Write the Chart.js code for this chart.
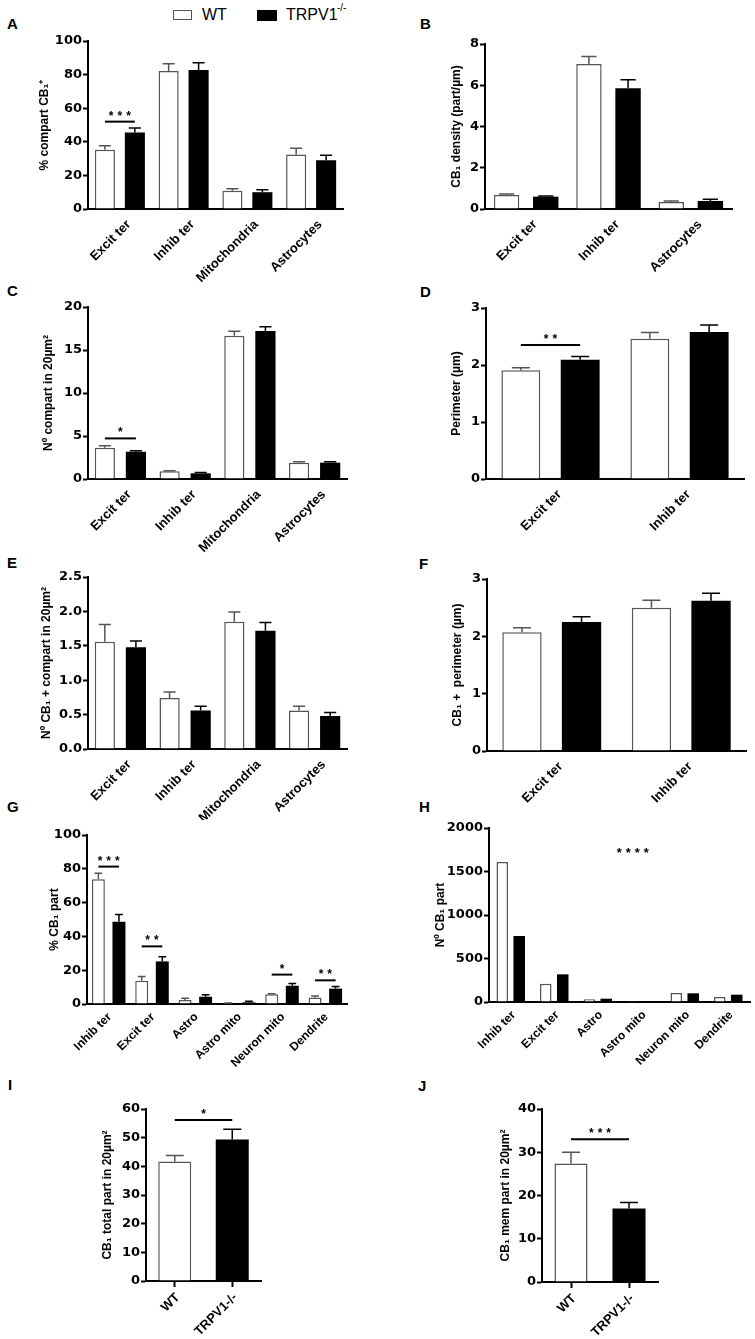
<!DOCTYPE html>
<html>
<head>
<meta charset="utf-8">
<script src="https://cdn.jsdelivr.net/npm/chart.js@4.4.0/dist/chart.umd.min.js"></script>
<style>
  body { margin: 0; background: #fff; width: 755px; height: 1339px; position: relative; overflow: hidden;
         font-family: "Liberation Sans", Arial, sans-serif; color: #000; }
  canvas { position: absolute; }
  .letter { position: absolute; font-size: 15px; line-height: 15px; font-weight: bold; }
  .legtext { position: absolute; font-size: 16px; line-height: 16px; }
</style>
</head>
<body>

<!-- legend -->
<div style="position:absolute;left:173px;top:10px;width:17px;height:8px;border:1.5px solid #555;background:#fff"></div>
<div class="legtext" style="left:202px;top:7px">WT</div>
<div style="position:absolute;left:257px;top:10px;width:20px;height:11px;background:#000"></div>
<div class="legtext" style="left:286px;top:7px">TRPV1</div>
<div class="legtext" style="left:337px;top:3px;font-size:10px;line-height:10px">-/-</div>

<!-- panel letters -->
<div class="letter" style="left:7px;top:16px">A</div>
<div class="letter" style="left:420px;top:16px">B</div>
<div class="letter" style="left:7px;top:283px">C</div>
<div class="letter" style="left:420px;top:284px">D</div>
<div class="letter" style="left:7px;top:555px">E</div>
<div class="letter" style="left:419px;top:556px">F</div>
<div class="letter" style="left:7px;top:799px">G</div>
<div class="letter" style="left:419px;top:799px">H</div>
<div class="letter" style="left:8px;top:1077px">I</div>
<div class="letter" style="left:418px;top:1078px">J</div>

<script>
'use strict';

// ***** DATA *****
// A - % compartments CB1+
const aCats = ['Excit ter', 'Inhib ter', 'Mitochondria', 'Astrocytes'];
const aWT = [35.2, 82.2, 10.9, 32.4];
const aWTErr = [2.5, 4.3, 1.1, 3.8];
const aKO = [45.6, 82.8, 10.0, 29.0];
const aKOErr = [2.6, 4.2, 1.5, 3.0];
const aTicks = ['0', '20', '40', '60', '80', '100'];
const aSig = [[0, 52, '***']];

// B - CB1 density
const bCats = ['Excit ter', 'Inhib ter', 'Astrocytes'];
const bWT = [0.68, 7.03, 0.34];
const bWTErr = [0.05, 0.37, 0.05];
const bKO = [0.60, 5.86, 0.39];
const bKOErr = [0.03, 0.41, 0.08];
const bTicks = ['0', '2', '4', '6', '8'];

// C - compartments in 20um2
const cCats = ['Excit ter', 'Inhib ter', 'Mitochondria', 'Astrocytes'];
const cWT = [3.64, 0.89, 16.67, 1.9];
const cWTErr = [0.23, 0.08, 0.51, 0.1];
const cKO = [3.17, 0.66, 17.2, 1.9];
const cKOErr = [0.12, 0.11, 0.5, 0.1];
const cTicks = ['0', '5', '10', '15', '20'];
const cSig = [[0, 4.72, '*']];

// D - perimeter
const dCats = ['Excit ter', 'Inhib ter'];
const dWT = [1.91, 2.46];
const dWTErr = [0.04, 0.11];
const dKO = [2.09, 2.58];
const dKOErr = [0.06, 0.12];
const dTicks = ['0', '1', '2', '3'];
const dSig = [[0, 2.35, '**']];

// E - CB1+ compartments in 20um2
const eCats = ['Excit ter', 'Inhib ter', 'Mitochondria', 'Astrocytes'];
const eWT = [1.56, 0.74, 1.85, 0.56];
const eWTErr = [0.25, 0.09, 0.14, 0.06];
const eKO = [1.48, 0.56, 1.72, 0.48];
const eKOErr = [0.09, 0.06, 0.12, 0.05];
const eTicks = ['0.0', '0.5', '1.0', '1.5', '2.0', '2.5'];

// F - CB1+ perimeter
const fCats = ['Excit ter', 'Inhib ter'];
const fWT = [2.07, 2.50];
const fWTErr = [0.08, 0.13];
const fKO = [2.25, 2.62];
const fKOErr = [0.09, 0.13];
const fTicks = ['0', '1', '2', '3'];

// G - % CB1 particles
const gCats = ['Inhib ter', 'Excit ter', 'Astro', 'Astro mito', 'Neuron mito', 'Dendrite'];
const gWT = [73.8, 13.8, 2.4, 0.4, 5.7, 3.9];
const gWTErr = [3.5, 2.4, 1.0, 0.2, 0.4, 0.8];
const gKO = [48.7, 25.2, 4.3, 1.0, 10.8, 9.1];
const gKOErr = [4.2, 2.8, 1.2, 0.6, 1.4, 1.2];
const gTicks = ['0', '20', '40', '60', '80', '100'];
const gSig = [[0, 81.3, '***'], [1, 34.1, '**'], [4, 17.4, '*'], [5, 14, '**']];

// H - number of CB1 particles
const hCats = ['Inhib ter', 'Excit ter', 'Astro', 'Astro mito', 'Neuron mito', 'Dendrite'];
const hWT = [1609, 211, 31, 2, 103, 57];
const hKO = [759, 318, 38, 8, 100, 84];
const hTicks = ['0', '500', '1000', '1500', '2000'];
const hSig = [[3, 1640, '****', false]];

// I - CB1 total particles
const iCats = ['WT', 'TRPV1-/-'];
const iValues = [41.7, 49.4];
const iErr = [2.1, 3.5];
const iTicks = ['0', '10', '20', '30', '40', '50', '60'];
const iSig = [[0, 56.2, '*']];

// J - CB1 membrane particles
const jCats = ['WT', 'TRPV1-/-'];
const jValues = [27.4, 17.0];
const jErr = [2.6, 1.4];
const jTicks = ['0', '10', '20', '30', '40'];
const jSig = [[0, 33, '***']];

const WT_FILL = '#fff';
const WT_EDGE = '#555';
const KO_FILL = '#000';

// ***** CHART DEFAULTS *****
Chart.defaults.font.family = '"Liberation Sans", Arial, sans-serif';
Chart.defaults.font.weight = 'bold';
Chart.defaults.font.size = 13;
Chart.defaults.color = '#000';

// ***** PLUGINS *****
// upper-only error bars (SEM)
const errorBars = {
  id: 'errorBars',
  afterDatasetsDraw(chart) {
    const ctx = chart.ctx;
    const yScale = chart.scales.y;
    chart.data.datasets.forEach((ds, di) => {
      if (!ds.errors) return;
      chart.getDatasetMeta(di).data.forEach((bar, i) => {
        const top = yScale.getPixelForValue(ds.data[i] + ds.errors[i]);
        const half = Math.min(bar.width * 0.3, 9);
        const color = Array.isArray(ds.borderColor) ? ds.borderColor[i] : ds.borderColor;
        ctx.save();
        ctx.strokeStyle = color;
        ctx.lineWidth = 1.5;
        ctx.beginPath();
        ctx.moveTo(bar.x, bar.y);
        ctx.lineTo(bar.x, top);
        ctx.moveTo(bar.x - half, top);
        ctx.lineTo(bar.x + half, top);
        ctx.stroke();
        ctx.restore();
      });
    });
  }
};

// significance lines + asterisks
const sigMarks = {
  id: 'sigMarks',
  afterDatasetsDraw(chart, args, opts) {
    const marks = opts.marks || [];
    const ctx = chart.ctx;
    const yScale = chart.scales.y;
    const two = chart.data.datasets.length > 1;
    marks.forEach(([cat, val, stars, line = true]) => {
      const a = chart.getDatasetMeta(0).data[cat];
      const b = two ? chart.getDatasetMeta(1).data[cat] : chart.getDatasetMeta(0).data[cat + 1];
      const y = yScale.getPixelForValue(val);
      ctx.save();
      if (line) {
        ctx.strokeStyle = '#000';
        ctx.lineWidth = 2;
        ctx.beginPath();
        ctx.moveTo(a.x, y);
        ctx.lineTo(b.x, y);
        ctx.stroke();
      }
      const spacing = opts.spacing || 4;
      ctx.font = 'bold ' + (opts.size || 12) + 'px "Liberation Sans", Arial, sans-serif';
      ctx.letterSpacing = spacing + 'px';
      ctx.fillStyle = '#000';
      ctx.textAlign = 'center';
      ctx.textBaseline = 'alphabetic';
      const cx = line ? (a.x + b.x) / 2 : a.x;
      ctx.fillText(stars, cx + spacing / 2, y - 2);
      ctx.restore();
    });
  }
};

// ***** HELPERS *****
function pairSets(wt, wtErr, ko, koErr) {
  const sets = [
    { label: 'WT', data: wt, backgroundColor: WT_FILL, borderColor: WT_EDGE, borderWidth: 1.5 },
    { label: 'TRPV1 -/-', data: ko, backgroundColor: KO_FILL, borderColor: '#000', borderWidth: 0 }
  ];
  if (wtErr) sets[0].errors = wtErr;
  if (koErr) sets[1].errors = koErr;
  return sets;
}

function singleSet(values, errs) {
  return [{
    data: values,
    errors: errs,
    backgroundColor: [WT_FILL, KO_FILL],
    borderColor: [WT_EDGE, '#000'],
    borderWidth: [1.5, 0]
  }];
}

// box = canvas [left, top, width, height], plot = chart area [left, top, right, bottom]
function makePanel(p) {
  const [bx, by, bw, bh] = p.box;
  const [l, t, r, b] = p.plot;
  const canvas = document.createElement('canvas');
  canvas.width = bw;
  canvas.height = bh;
  canvas.style.left = bx + 'px';
  canvas.style.top = by + 'px';
  document.body.appendChild(canvas);

  const ticks = p.ticks;
  const xTicks = !!p.xTicks;

  new Chart(canvas, {
    type: 'bar',
    data: { labels: p.cats, datasets: p.datasets },
    options: {
      responsive: false,
      animation: false,
      events: [],
      layout: { padding: { left: 0, top: t - by, right: bx + bw - r, bottom: 0 } },
      datasets: { bar: { categoryPercentage: p.cat, barPercentage: p.bar } },
      plugins: {
        legend: { display: false },
        tooltip: { enabled: false },
        sigMarks: { marks: p.sig || [], size: p.sigSize || 12, spacing: p.sigSpacing || 4 }
      },
      scales: {
        x: {
          z: 1,
          afterFit: s => { s.height = by + bh - b; },
          grid: { display: true, drawOnChartArea: false, drawTicks: xTicks, offset: false,
                  tickLength: 6, tickWidth: 2, tickColor: '#000' },
          border: { display: true, color: '#000', width: 2 },
          ticks: { autoSkip: false, minRotation: 45, maxRotation: 45,
                   padding: p.xPad === undefined ? 8 : p.xPad,
                   labelOffset: p.xShift === undefined ? 9 : p.xShift,
                   font: { size: p.xFont || 13, weight: 'bold' } }
        },
        y: {
          min: Number(ticks[0]),
          max: Number(ticks[ticks.length - 1]),
          afterFit: s => { s.width = l - bx; },
          afterBuildTicks: s => { s.ticks = ticks.map(v => ({ value: Number(v) })); },
          grid: { display: true, drawOnChartArea: false, drawTicks: true,
                  tickLength: 5, tickWidth: 2, tickColor: '#000' },
          border: { display: true, color: '#000', width: 2 },
          ticks: { padding: 1, font: { family: '"DejaVu Sans", sans-serif', size: 13, weight: 'bold' },
                   callback: (v, i) => ticks[i] },
          title: { display: true, text: p.title, font: { size: 12, weight: 'bold' },
                   padding: { top: p.titleX - 7.2, bottom: 0 } }
        }
      }
    },
    plugins: [errorBars, sigMarks]
  });
}

// ***** PANELS *****
makePanel({ box: [0, 0, 377, 285], plot: [88, 41, 343, 209], cats: aCats,
  datasets: pairSets(aWT, aWTErr, aKO, aKOErr), ticks: aTicks, sig: aSig,
  cat: 0.94, bar: 0.67, title: '% compart CB₁⁺', titleX: 45 });

makePanel({ box: [377, 0, 378, 285], plot: [485, 44, 732, 209], cats: bCats,
  datasets: pairSets(bWT, bWTErr, bKO, bKOErr), ticks: bTicks,
  cat: 0.95, bar: 0.65, title: 'CB₁ density (part/µm)', titleX: 80 });

makePanel({ box: [0, 270, 377, 285], plot: [88, 307, 347, 479], cats: cCats,
  datasets: pairSets(cWT, cWTErr, cKO, cKOErr), ticks: cTicks, sig: cSig,
  cat: 0.96, bar: 0.65, title: 'Nº compart in 20µm²', titleX: 49 });

makePanel({ box: [377, 270, 378, 285], plot: [486, 308, 744, 479], cats: dCats,
  datasets: pairSets(dWT, dWTErr, dKO, dKOErr), ticks: dTicks, sig: dSig,
  cat: 0.92, bar: 0.655, title: 'Perimeter (µm)', titleX: 80 });

makePanel({ box: [0, 545, 377, 275], plot: [88, 577, 347, 749], cats: eCats,
  datasets: pairSets(eWT, eWTErr, eKO, eKOErr), ticks: eTicks,
  cat: 0.96, bar: 0.65, title: 'Nº CB₁ + compart in 20µm²', titleX: 47 });

makePanel({ box: [377, 545, 378, 275], plot: [487, 579, 746, 751], cats: fCats,
  datasets: pairSets(fWT, fWTErr, fKO, fKOErr), ticks: fTicks,
  cat: 0.92, bar: 0.66, title: 'CB₁ +  perimeter (µm)', titleX: 81 });

makePanel({ box: [0, 795, 377, 280], plot: [87, 835, 347, 1004], cats: gCats,
  datasets: pairSets(gWT, gWTErr, gKO, gKOErr), ticks: gTicks, sig: gSig,
  cat: 0.95, bar: 0.63, xFont: 12, xShift: 1, xPad: 6, title: '% CB₁ part', titleX: 55 });

makePanel({ box: [377, 795, 378, 280], plot: [489, 828, 750, 1002], cats: hCats,
  datasets: pairSets(hWT, null, hKO, null), ticks: hTicks, sig: hSig, sigSize: 13,
  cat: 0.78, bar: 0.68, xFont: 12, xShift: 3, xPad: 6, title: 'Nº CB₁ part', titleX: 64 });

makePanel({ box: [0, 1070, 377, 269], plot: [146, 1109, 261, 1281], cats: iCats,
  datasets: singleSet(iValues, iErr), ticks: iTicks, sig: iSig, xTicks: true, xShift: 3, xPad: 3,
  cat: 1, bar: 0.574, title: 'CB₁ total part in 20µm²', titleX: 108 });

makePanel({ box: [377, 1070, 378, 269], plot: [542, 1109, 658, 1282], cats: jCats,
  datasets: singleSet(jValues, jErr), ticks: jTicks, sig: jSig, xTicks: true, xShift: 3, xPad: 3,
  cat: 1, bar: 0.57, title: 'CB₁ mem part in 20µm²', titleX: 129 });
</script>
</body>
</html>
